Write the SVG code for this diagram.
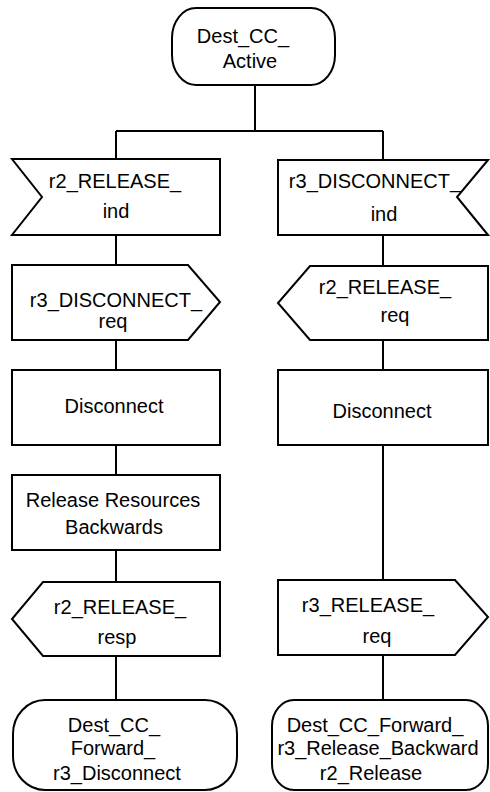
<svg xmlns="http://www.w3.org/2000/svg" width="490" height="792" viewBox="0 0 490 792">
<style>
.s{fill:#fff;stroke:#000;stroke-width:2}
.c{fill:none;stroke:#000;stroke-width:2}
text{font-family:"Liberation Sans",Arial,sans-serif;font-size:20px;fill:#000;text-anchor:middle}
</style>
<rect width="490" height="792" fill="#fff"/>
<g id="connectors">
<path class="c" d="M255,85V131M116,131H383M116,131V159M383,131V160M116,235V265M116,340V370M116,445V475M116,550V582M116,656V700M383,235V266M383,340V370M383,445V580M383,655V700"/>
</g>
<g id="start">
<rect class="s" x="172" y="8" width="163" height="77" rx="24" ry="30"/>
<text x="243" y="43">Dest_CC_</text>
<text x="250" y="68">Active</text>
</g>
<g id="in_left">
<polygon class="s" points="12,159 220,159 220,235 12,235 42,197"/>
<text x="115" y="188">r2_RELEASE_</text>
<text x="116" y="218">ind</text>
</g>
<g id="out_left1">
<polygon class="s" points="12,265 188,265 220,302 188,340 12,340"/>
<text x="116" y="307">r3_DISCONNECT_</text>
<text x="113" y="328">req</text>
</g>
<g id="task_left1">
<rect class="s" x="12" y="370" width="208" height="75"/>
<text x="114" y="413">Disconnect</text>
</g>
<g id="task_left2">
<rect class="s" x="12" y="475" width="208" height="75"/>
<text x="113" y="507">Release Resources</text>
<text x="114" y="534">Backwards</text>
</g>
<g id="out_left2">
<polygon class="s" points="43,582 220,582 220,656 43,656 12,619"/>
<text x="120" y="614">r2_RELEASE_</text>
<text x="117" y="644">resp</text>
</g>
<g id="state_left">
<rect class="s" x="13" y="700" width="224" height="90" rx="32" ry="34"/>
<text x="114" y="732">Dest_CC_</text>
<text x="113" y="755">Forward_</text>
<text x="117" y="780">r3_Disconnect</text>
</g>
<g id="in_right">
<polygon class="s" points="278,160 488,160 457,197 488,235 278,235"/>
<text x="375" y="188">r3_DISCONNECT_</text>
<text x="384" y="221">ind</text>
</g>
<g id="out_right1">
<polygon class="s" points="310,266 488,266 488,340 310,340 278,303"/>
<text x="385" y="294">r2_RELEASE_</text>
<text x="395" y="322">req</text>
</g>
<g id="task_right">
<rect class="s" x="278" y="370" width="210" height="75"/>
<text x="382" y="418">Disconnect</text>
</g>
<g id="out_right2">
<polygon class="s" points="278,580 455,580 488,617 455,655 278,655"/>
<text x="368" y="612">r3_RELEASE_</text>
<text x="377" y="643">req</text>
</g>
<g id="state_right">
<rect class="s" x="272" y="700" width="216" height="90" rx="22" ry="26"/>
<text x="375" y="732">Dest_CC_Forward_</text>
<text x="378" y="755">r3_Release_Backward</text>
<text x="371" y="780">r2_Release</text>
</g>
</svg>
